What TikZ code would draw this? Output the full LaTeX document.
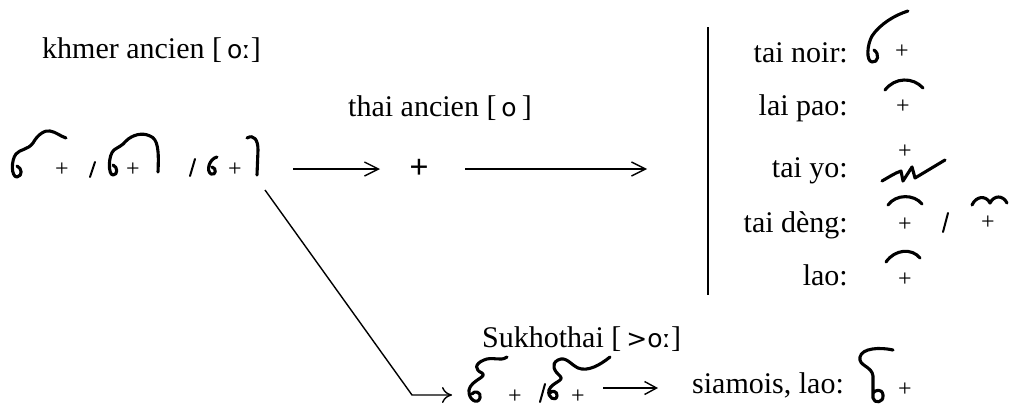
\documentclass[tikz,border=0pt]{standalone}
\usepackage{fontspec}
\setmainfont{Liberation Serif}
\newfontfamily\ipafont{DejaVu Sans}
\usetikzlibrary{arrows.meta}
\newcommand\ipatxt[1]{{\ipafont\fontsize{25}{30}\selectfont #1}}
\begin{document}
\begin{tikzpicture}[x=1pt,y=-1pt,
  lbl/.style={inner sep=0pt, font=\fontsize{30}{36}\selectfont},
  pl/.style={inner sep=0pt, font=\fontsize{24}{28}\selectfont},
  hand/.style={line width=3.1pt, line cap=round, line join=round},
  slash/.style={line width=2pt, line cap=round},
  conn/.style={line width=1.4pt},
  barb/.style={-{Straight Barb[length=14pt,width=14pt]}}]
\useasboundingbox[fill=white] (0,0) rectangle (1009,407);

% ---------- titles ----------
\node[lbl, anchor=base west] (khmer) at (42,58) {khmer ancien [\,\ipatxt{oː}]};
\node[lbl, anchor=base west] (thai) at (348,116) {thai ancien [\,\ipatxt{o}\,]};
\node[lbl, anchor=base west] (sukho) at (482,347) {Sukhothai [\,\ipatxt{>oː}]};

% ---------- khmer row glyphs ----------
\draw[hand] (17,166) .. controls (22,168) and (23,176) .. (17,177)
  .. controls (11,177) and (11,160) .. (16,154)
  .. controls (20,149) and (28,150) .. (33,143)
  .. controls (38,134) and (45,130) .. (50,131)
  .. controls (56,132) and (60,136) .. (66,138);
\node[pl] (k1) at (62,170) {+};
\draw[slash] (90,177) -- (95,162);
\draw[hand] (113,165) .. controls (118,167) and (118,175) .. (113,175)
  .. controls (108,175) and (108,155) .. (114,150)
  .. controls (118,147) and (122,146) .. (126,141)
  .. controls (132,135) and (142,132) .. (150,136)
  .. controls (158,139) and (159,150) .. (158,172);
\node[pl] (k2) at (133,170) {+};
\draw[slash] (190,176) -- (195,159);
\draw[hand] (217,157) .. controls (209,159) and (206,171) .. (211,174)
  .. controls (216,176) and (217,168) .. (212,167);
\node[pl] (k3) at (235,170) {+};
\draw[hand] (247,138) .. controls (254,134) and (258,140) .. (258,150) -- (257,175);

% ---------- central chain ----------
\coordinate (a1s) at (293,169);
\coordinate (a1e) at (380,169);
\draw[conn,barb] (a1s) -- (a1e);
\node[inner sep=0pt, font=\fontsize{34}{40}\selectfont\bfseries] (bp) at (419,169) {+};
\coordinate (a2s) at (465,169);
\coordinate (a2e) at (647,169);
\draw[conn,barb] (a2s) -- (a2e);

% vertical bar
\coordinate (v0) at (708,27);
\coordinate (v1) at (708,295);
\draw[line width=2.2pt] (v0) -- (v1);

% ---------- right column ----------
\node[lbl, anchor=base east] (tn) at (848,62) {tai noir:};
\node[lbl, anchor=base east] (lp) at (848,115) {lai pao:};
\node[lbl, anchor=base east] (ty) at (848,177) {tai yo:};
\node[lbl, anchor=base east] (td) at (848,232) {tai dèng:};
\node[lbl, anchor=base east] (lo) at (848,285) {lao:};

% tai noir
\draw[hand] (874,50) .. controls (880,54) and (878,63) .. (872,62)
  .. controls (866,61) and (867,45) .. (872,36)
  .. controls (880,24) and (895,15) .. (908,11);
\node[pl] (tn+) at (902,52) {+};
% lai pao
\draw[hand] (885,90) .. controls (895,77) and (913,77) .. (923,88);
\node[pl] (lp+) at (903,107) {+};
% tai yo
\node[pl] (ty+) at (905,152) {+};
\draw[hand] (882,181) .. controls (889,177) and (895,173) .. (901,171)
  -- (903,181) -- (912,167) -- (915,178)
  .. controls (925,172) and (935,166) .. (945,160);
% tai deng
\draw[hand] (888,205) .. controls (896,194) and (914,194) .. (922,204);
\node[pl] (td+) at (905,225) {+};
\draw[slash] (943,232) -- (948,213);
\draw[hand] (972,205) .. controls (976,196) and (986,195) .. (990,203)
  .. controls (994,195) and (1003,195) .. (1007,203);
\node[pl] (td2+) at (988,223) {+};
% lao
\draw[hand] (886,262) .. controls (895,249) and (912,248) .. (920,258);
\node[pl] (lo+) at (905,280) {+};

% ---------- lower branch ----------
\coordinate (d0) at (265,190);
\coordinate (d1) at (412,395);
\coordinate (d2) at (452,395);
\draw[conn,-{Computer Modern Rightarrow[length=10pt,width=16pt]}] (d0) -- (d1) -- (d2);

\draw[hand] (507,357) .. controls (500,362) and (493,356) .. (484,360)
  .. controls (474,364) and (475,370) .. (482,373)
  .. controls (488,377) and (471,380) .. (469,390)
  .. controls (468,400) and (478,405) .. (480,398)
  .. controls (482,392) and (474,390) .. (472,394);
\node[pl] (s1+) at (515,397) {+};
\draw[slash] (540,402) -- (545,384);
\draw[hand] (610,357) .. controls (600,365) and (588,372) .. (578,368)
  .. controls (570,364) and (566,356) .. (558,360)
  .. controls (550,364) and (555,372) .. (560,376)
  .. controls (565,381) and (552,382) .. (549,390)
  .. controls (547,398) and (556,402) .. (557,396)
  .. controls (558,391) and (551,390) .. (550,393);
\node[pl] (s2+) at (578,397) {+};

\coordinate (a3s) at (603,388);
\coordinate (a3e) at (658,388);
\draw[conn,-{Straight Barb[length=12pt,width=13pt]}] (a3s) -- (a3e);

\node[lbl, anchor=base west] (siam) at (692,393) {siamois, lao:};
\draw[hand] (893,350) .. controls (880,347) and (862,348) .. (860,357)
  .. controls (858,366) and (872,366) .. (873,376) -- (873,398)
  .. controls (874,404) and (884,403) .. (883,395)
  .. controls (882,388) and (875,390) .. (873,393);
\node[pl] (si+) at (905,390) {+};
\end{tikzpicture}
\end{document}
